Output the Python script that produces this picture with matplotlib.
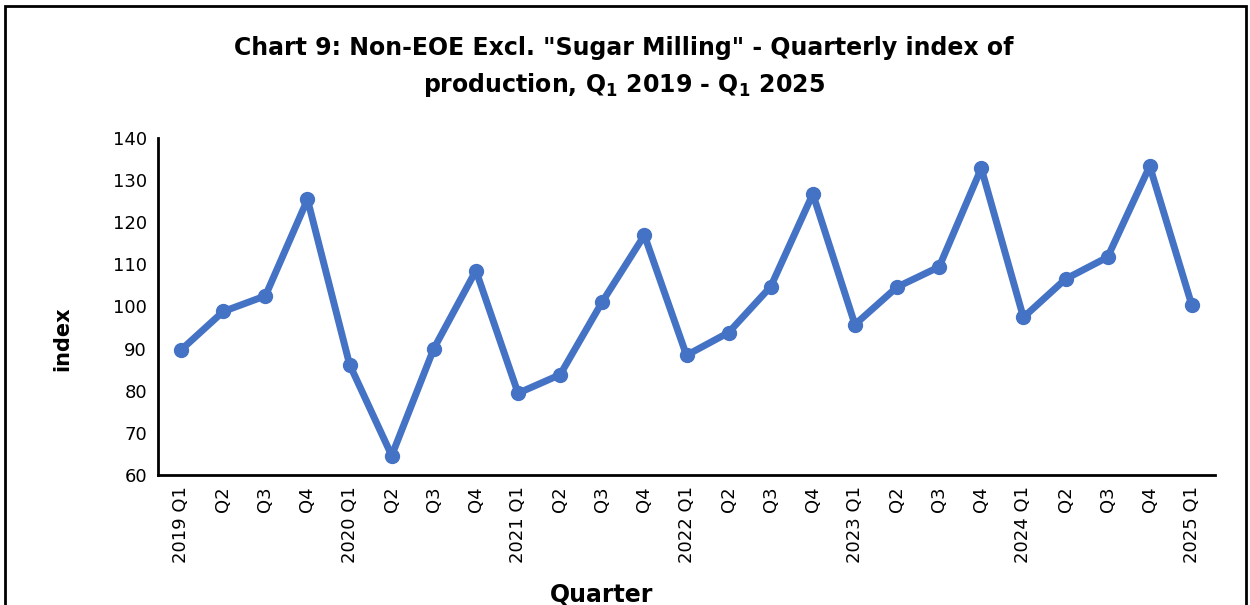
import matplotlib.pyplot as plt
from matplotlib.patches import Rectangle

quarters = ["2019 Q1", "Q2", "Q3", "Q4",
            "2020 Q1", "Q2", "Q3", "Q4",
            "2021 Q1", "Q2", "Q3", "Q4",
            "2022 Q1", "Q2", "Q3", "Q4",
            "2023 Q1", "Q2", "Q3", "Q4",
            "2024 Q1", "Q2", "Q3", "Q4",
            "2025 Q1"]
index_values = [89.7, 98.8, 102.5, 125.4,
                86.2, 64.6, 90.0, 108.5,
                79.4, 83.8, 101.1, 116.9,
                88.4, 93.8, 104.7, 126.7,
                95.7, 104.6, 109.4, 132.8,
                97.4, 106.5, 111.7, 133.3,
                100.3]
y_ticks = [60, 70, 80, 90, 100, 110, 120, 130, 140]

fig = plt.figure(figsize=(12.5, 6.05), dpi=100)
ax = fig.add_axes([0.1264, 0.215, 0.8456, 0.557])

x = list(range(len(quarters)))
ax.plot(x, index_values, color="#4472C4", linewidth=5, marker="o", markersize=10,
        solid_joinstyle="round")

ax.set_xlim(-0.55, len(quarters) - 0.45)
ax.set_ylim(60, 140)
ax.set_yticks(y_ticks)
ax.set_xticks(x)
ax.set_xticklabels(quarters, rotation=90, fontsize=13)
ax.tick_params(axis="y", labelsize=13, length=0, pad=8)
ax.tick_params(axis="x", length=0, pad=8)

for side in ["top", "right"]:
    ax.spines[side].set_visible(False)
for side in ["left", "bottom"]:
    ax.spines[side].set_linewidth(2)
    ax.spines[side].set_color("black")

fig.text(0.05, 0.44, "index", rotation=90, ha="center", va="center",
         fontsize=15, fontweight="bold")
fig.text(0.481, 0.017, "Quarter", ha="center", va="center",
         fontsize=17, fontweight="bold")

fig.text(0.499, 0.92, 'Chart 9: Non-EOE Excl. "Sugar Milling" - Quarterly index of',
         ha="center", va="center", fontsize=17, fontweight="bold")
fig.text(0.499, 0.86, r'production, Q$_\mathbf{1}$ 2019 - Q$_\mathbf{1}$ 2025',
         ha="center", va="center", fontsize=17, fontweight="bold")

fig.patches.append(Rectangle((0.004, -0.01), 0.993, 1.0, transform=fig.transFigure,
                             fill=False, edgecolor="black", linewidth=2))

fig.savefig("out.png", dpi=100)
